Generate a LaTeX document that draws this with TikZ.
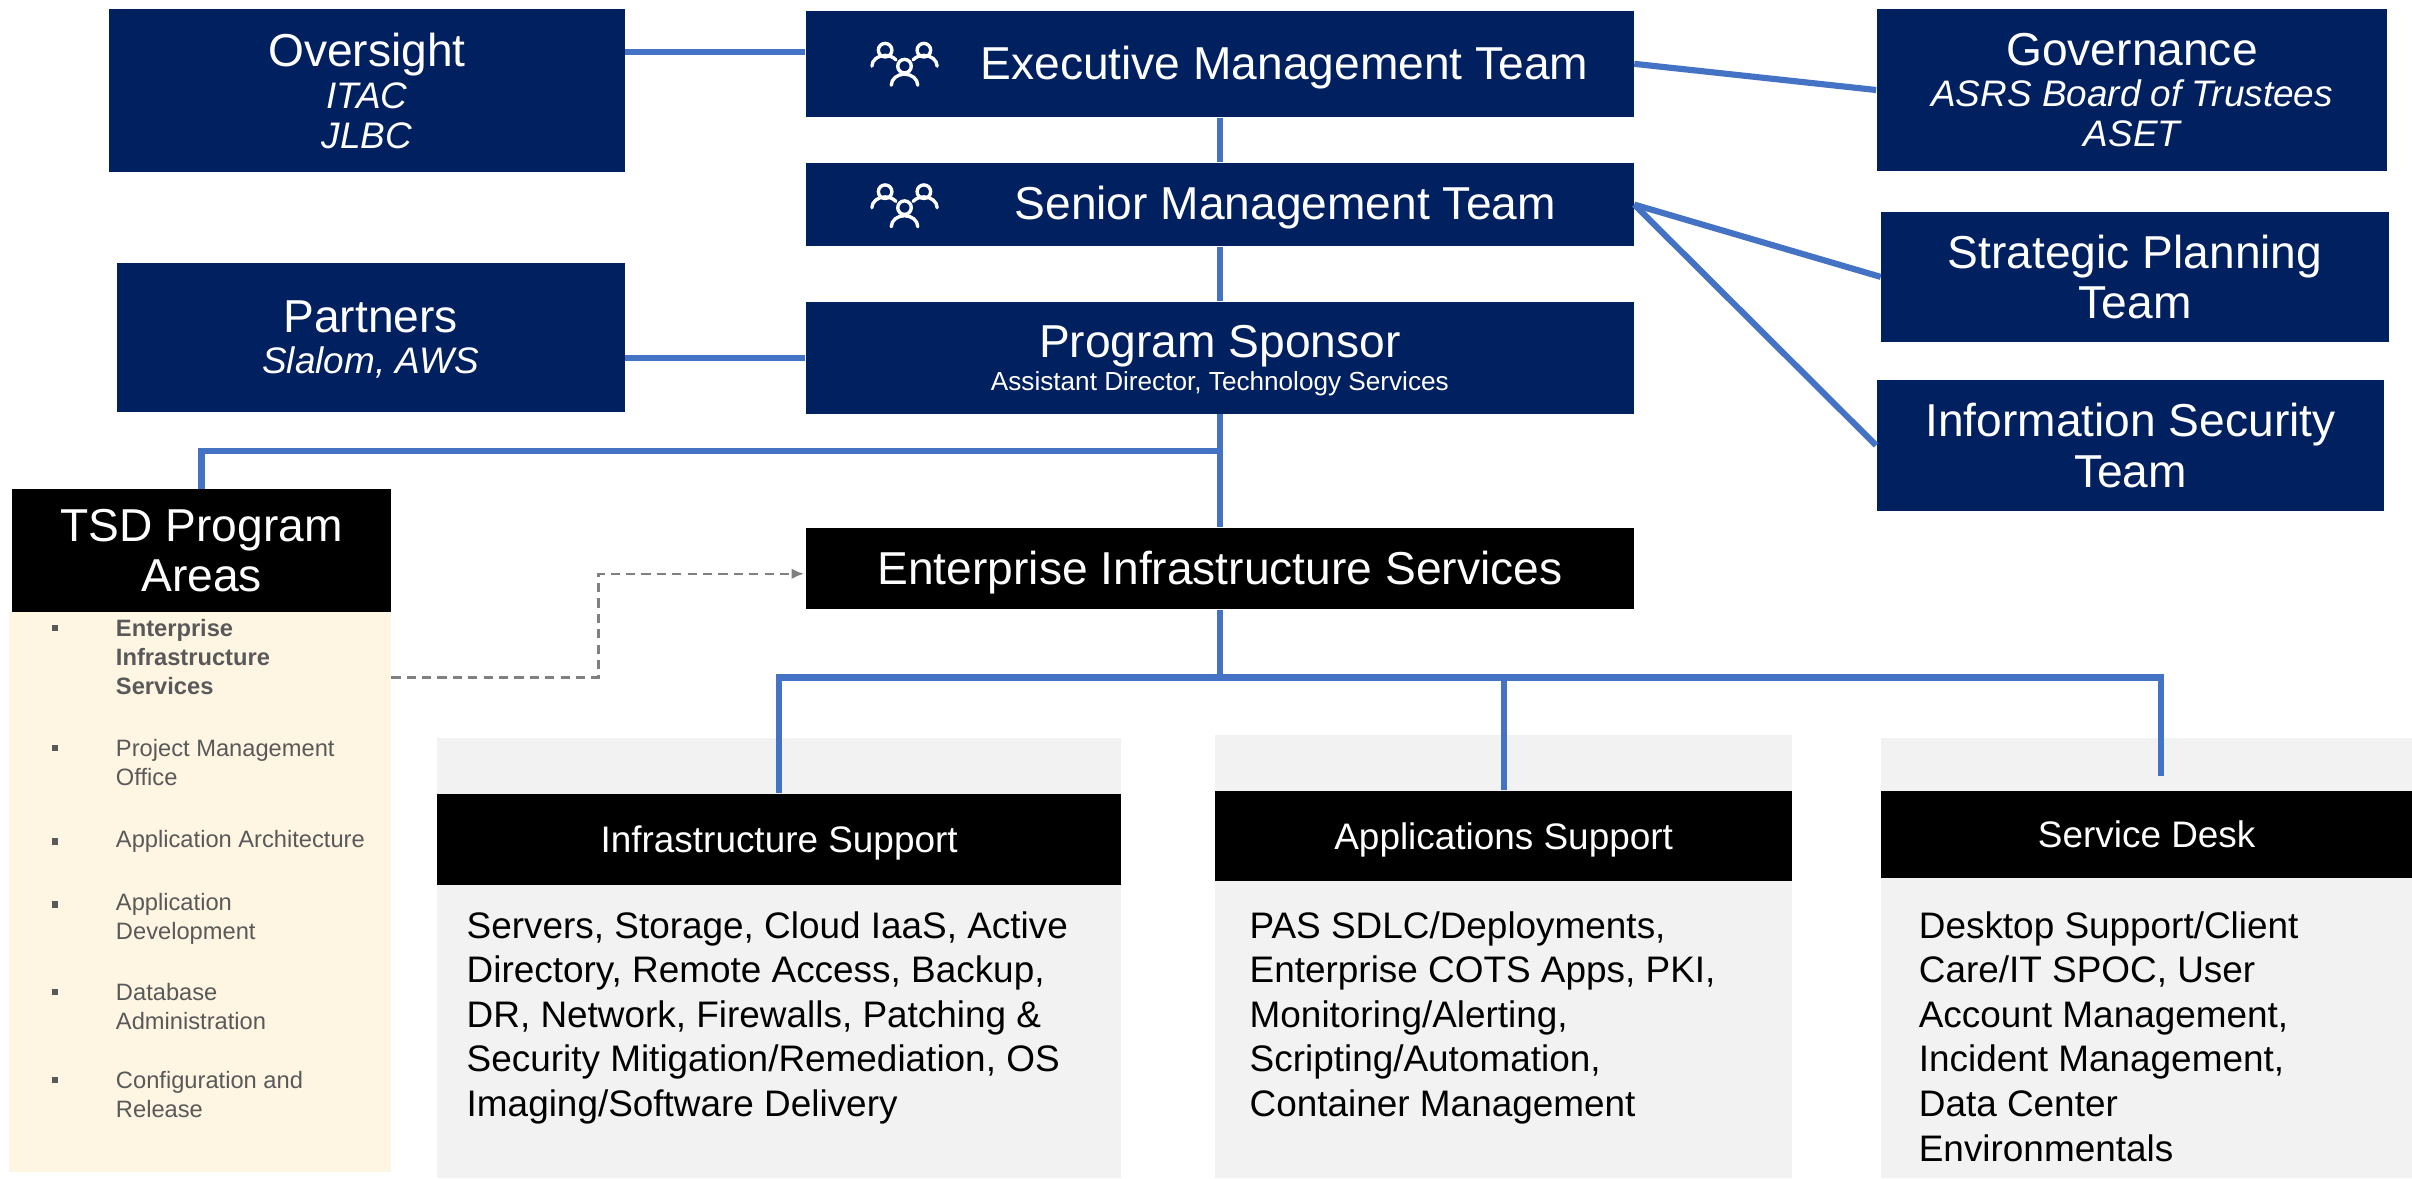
\documentclass[tikz,border=0pt]{standalone}
\usepackage{fontspec}
\setmainfont{Liberation Sans}
\usetikzlibrary{calc,arrows.meta}
\definecolor{navy}{HTML}{002060}
\definecolor{linkblue}{HTML}{4472C4}
\definecolor{panelgrey}{HTML}{F2F2F2}
\definecolor{cream}{HTML}{FFF5E3}
\definecolor{listgrey}{HTML}{595959}
\tikzset{
	navybox/.style={fill=navy,text=white,align=center,inner sep=0pt},
	blackbox/.style={fill=black,text=white,align=center,inner sep=0pt},
	greypanel/.style={fill=panelgrey,inner sep=0pt},
	link/.style={draw=linkblue,line width=2pt},
	dashlink/.style={draw=gray,line width=0.75pt,dash pattern=on 3pt off 2pt,-{Latex[length=4pt,width=3.5pt]}},
	bodytext/.style={anchor=north west,align=left,inner sep=0pt,font=\fontsize{12}{14.5}\selectfont},
	listtext/.style={anchor=west,align=left,inner sep=0pt,text=listgrey,font=\fontsize{7.7}{9.5}\selectfont},
	sqdot/.style={fill=listgrey,minimum size=2pt,inner sep=0pt},
	peopleicon/.pic={
		\begin{scope}[draw=white,line width=1.1pt,line cap=round]
			\draw (-6.3,4.2) circle (2.2);
			\draw (6.3,4.2) circle (2.2);
			\draw (-10.6,-1) arc (180:35:4.3 and 3.5);
			\draw (10.6,-1) arc (0:145:4.3 and 3.5);
			\draw (0,-1) circle (2.2);
			\draw (-4.3,-7.2) arc (180:0:4.3 and 3.6);
		\end{scope}
	}
}
\begin{document}
\begin{tikzpicture}[x=1pt,y=1pt]
			\useasboundingbox (0,0) rectangle (784,-383);
			% top rows
			\node[navybox,minimum width=167.5pt,minimum height=53pt,text depth=-0.6pt,font=\fontsize{12}{13}\selectfont] (over) at (119.25,-29.5) {{\fontsize{15}{15}\selectfont Oversight}\\[0.4pt]\itshape ITAC\\\itshape JLBC};
			\node[navybox,minimum width=269pt,minimum height=34.5pt] (exec) at (396.5,-20.75) {};
			\node[text=white,font=\fontsize{15}{15}\selectfont] (exectxt) at (417.5,-22) {Executive Management Team};
			\pic at (294,-20.5) {peopleicon};
			\node[navybox,minimum width=166pt,minimum height=52.5pt,text depth=-1pt,font=\fontsize{12}{13}\selectfont] (gov) at (693,-29.25) {{\fontsize{15}{15}\selectfont Governance}\\[0.4pt]\itshape ASRS Board of Trustees\\\itshape ASET};
			\node[navybox,minimum width=269pt,minimum height=27pt] (senior) at (396.5,-66.5) {};
			\node[text=white,font=\fontsize{15}{15}\selectfont] (seniortxt) at (417.75,-67.5) {Senior Management Team};
			\pic at (294,-66.5) {peopleicon};
			\node[navybox,minimum width=165pt,minimum height=42pt,font=\fontsize{15}{16.5}\selectfont] (strat) at (694,-90) {Strategic Planning\\Team};
			\node[navybox,minimum width=165pt,minimum height=48.5pt,text depth=0.5pt,font=\fontsize{12}{13}\selectfont] (partners) at (120.5,-109.75) {{\fontsize{15}{15}\selectfont Partners}\\[0.4pt]\itshape Slalom, AWS};
			\node[navybox,minimum width=269pt,minimum height=36.5pt,text depth=-1.2pt,font=\fontsize{8.5}{10.6}\selectfont] (sponsor) at (396.5,-116.25) {{\fontsize{15}{15}\selectfont Program Sponsor}\\Assistant Director, Technology Services};
			\node[navybox,minimum width=165pt,minimum height=42.5pt,font=\fontsize{15}{16.5}\selectfont] (infosec) at (692.5,-144.75) {Information Security\\Team};
			% program areas
			\node[fill=cream,minimum width=124pt,minimum height=182pt,inner sep=0pt] (areas) at (65,-290) {};
			\node[blackbox,minimum width=123pt,minimum height=40pt,font=\fontsize{15}{16}\selectfont] (tsd) at (65.5,-179) {TSD Program\\Areas};
			\node[listtext,font=\fontsize{7.7}{9.5}\selectfont\bfseries] (i1) at (37.5,-213.5) {Enterprise\\Infrastructure\\Services};
			\node[listtext] (i2) at (37.5,-247.75) {Project Management\\Office};
			\node[listtext] (i3) at (37.5,-273.5) {Application Architecture};
			\node[listtext] (i4) at (37.5,-298.75) {Application\\Development};
			\node[listtext] (i5) at (37.5,-327.25) {Database\\Administration};
			\node[listtext] (i6) at (37.5,-355.75) {Configuration and\\Release};
			\node[sqdot] (b1) at (18,-204) {};
			\node[sqdot] (b2) at (18,-243) {};
			\node[sqdot] (b3) at (18,-273.5) {};
			\node[sqdot] (b4) at (18,-294) {};
			\node[sqdot] (b5) at (18,-322.5) {};
			\node[sqdot] (b6) at (18,-351) {};
			% infrastructure services
			\node[blackbox,minimum width=269pt,minimum height=26.5pt,text height=10.75pt,text depth=0pt,font=\fontsize{15}{15}\selectfont] (eis) at (396.5,-184.75) {Enterprise Infrastructure Services};
			\node[greypanel,minimum width=222.5pt,minimum height=143pt] (infrapanel) at (253.25,-311.5) {};
			\node[greypanel,minimum width=187.5pt,minimum height=144pt] (appspanel) at (488.75,-311) {};
			\node[greypanel,minimum width=172.5pt,minimum height=143pt] (deskpanel) at (697.75,-311.5) {};
			\node[blackbox,minimum width=222.5pt,minimum height=29.5pt,text height=8.6pt,text depth=0pt,font=\fontsize{12}{12}\selectfont] (infra) at (253.25,-272.75) {Infrastructure Support};
			\node[blackbox,minimum width=187.5pt,minimum height=29.5pt,text height=8.6pt,text depth=0pt,font=\fontsize{12}{12}\selectfont] (apps) at (488.75,-271.75) {Applications Support};
			\node[blackbox,minimum width=172.5pt,minimum height=28.5pt,text height=8.6pt,text depth=0pt,font=\fontsize{12}{12}\selectfont] (desk) at (697.75,-271.25) {Service Desk};
			\node[bodytext] (infrabody) at (151.5,-296) {Servers, Storage, Cloud IaaS, Active\\Directory, Remote Access, Backup,\\DR, Network, Firewalls, Patching \&\\Security Mitigation/Remediation, OS\\Imaging/Software Delivery};
			\node[bodytext] (appsbody) at (406,-296) {PAS SDLC/Deployments,\\Enterprise COTS Apps, PKI,\\Monitoring/Alerting,\\Scripting/Automation,\\Container Management};
			\node[bodytext] (deskbody) at (623.5,-296) {Desktop Support/Client\\Care/IT SPOC, User\\Account Management,\\Incident Management,\\Data Center\\Environmentals};
			% connectors
			\draw[link] ([yshift=12.5pt]over.east) -- ([yshift=3.75pt]exec.west);
			\draw[link] (exec.east) -- (gov.west);
			\draw[link] (exec.south) -- (senior.north);
			\draw[link] (senior.south) -- (sponsor.north);
			\draw[link] (senior.east) -- (strat.west);
			\draw[link] (senior.east) -- (infosec.west);
			\draw[link] (partners.east |- sponsor.west) -- (sponsor.west);
			\draw[link] (sponsor.south) -- (eis.north);
			\draw[link] (tsd.north) |- ([yshift=-12pt]sponsor.south);
			\coordinate (hub) at ([yshift=-22pt]eis.south);
			\draw[link] (eis.south) -- (hub);
			\draw[link] (hub) -| (infra.north);
			\draw[link] (hub) -| (apps.north);
			\draw[link] (hub) -| ([xshift=4.75pt,yshift=4.5pt]desk.north);
			\draw[dashlink] (areas.east |- hub) -| ($(areas.east |- hub)!0.5!([yshift=-1.75pt]eis.west)$) |- ([xshift=-0.5pt,yshift=-1.75pt]eis.west);
		\end{tikzpicture}
\end{document}
